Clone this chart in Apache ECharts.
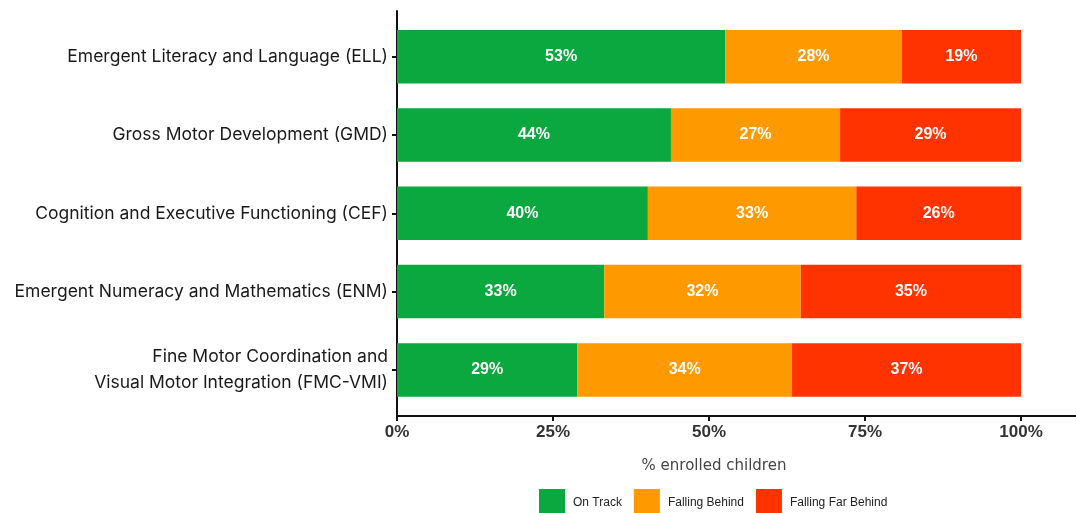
<!DOCTYPE html>
<html>
<head>
<meta charset="utf-8">
<script src="https://cdn.jsdelivr.net/npm/echarts@6/dist/echarts.min.js"></script>
<style>html,body{margin:0;padding:0;background:#fff}#c{width:1076px;height:513px}</style>
</head>
<body>
<div id="c"></div>
<script>
const categories = [
  'Emergent Literacy and Language (ELL)',
  'Gross Motor Development (GMD)',
  'Cognition and Executive Functioning (CEF)',
  'Emergent Numeracy and Mathematics (ENM)',
  'Fine Motor Coordination and\nVisual Motor Integration (FMC-VMI)'
];
const seriesNames = ['On Track', 'Falling Behind', 'Falling Far Behind'];
const onTrack = [52.6, 43.9, 40.2, 33.2, 28.9];
const fallingBehind = [28.3, 27.1, 33.4, 31.5, 34.4];
const fallingFarBehind = [19.1, 29.0, 26.4, 35.3, 36.7];
const xTicks = [0, 25, 50, 75, 100];
const colors = ['#0aa83e', '#ff9900', '#ff3300'];

const chart = echarts.init(document.getElementById('c'), null, {renderer: 'canvas'});
const XMAX = 108.8;
const mk = (name, data, i) => ({
  name: name, type: 'bar', stack: 'total', data: data,
  xAxisIndex: 0, yAxisIndex: 0,
  barCategoryGap: '31.7%',
  itemStyle: {color: colors[i]},
  label: {show: true, position: 'inside', color: '#fff', fontWeight: 'bold', fontSize: 16,
    fontFamily: 'Liberation Sans, Arial, sans-serif',
    formatter: p => Math.round(p.value) + '%'}
});
chart.setOption({
  animation: false,
  title: {text: '% enrolled children', left: 709, top: 454, textAlign: 'center',
    textStyle: {fontSize: 15, fontWeight: 'normal', color: '#444', fontFamily: 'DejaVu Sans, sans-serif'}},
  legend: {data: seriesNames, left: 534, top: 484, padding: 5, itemWidth: 26, itemHeight: 28, itemGap: 12,
    icon: 'rect',
    textStyle: {fontSize: 12, color: '#222', padding: [0, 0, 0, 3],
      fontFamily: 'Liberation Sans Narrow, Arial Narrow, sans-serif'}},
  grid: [
    {left: 397, right: 0, top: 17.5, height: 391.6},
    {left: 397, right: 0, top: 11, bottom: 97}
  ],
  xAxis: [
    {type: 'value', gridIndex: 0, min: 0, max: XMAX, show: false},
    {type: 'value', gridIndex: 1, min: 0, max: XMAX,
      axisLine: {show: true, lineStyle: {color: '#111', width: 2}},
      axisTick: {show: true, length: 5, lineStyle: {color: '#111', width: 2}, customValues: xTicks},
      axisLabel: {customValues: xTicks, formatter: v => v + '%', fontSize: 17, fontWeight: 'bold', color: '#333', margin: 8,
        fontFamily: 'Liberation Sans, Arial, sans-serif'},
      splitLine: {show: false}}
  ],
  yAxis: [
    {type: 'category', gridIndex: 0, data: categories, inverse: true,
      axisLine: {show: false},
      axisTick: {show: true, alignWithLabel: true, length: 5, lineStyle: {color: '#111', width: 2}},
      axisLabel: {fontSize: 17.5, color: '#1a1a1a', margin: 9, lineHeight: 26,
        fontFamily: 'Inter, Liberation Sans, sans-serif'}},
    {type: 'value', gridIndex: 1, min: 0, max: 1,
      axisLine: {show: true, lineStyle: {color: '#111', width: 2}},
      axisTick: {show: false}, axisLabel: {show: false}, splitLine: {show: false}}
  ],
  series: [
    mk(seriesNames[0], onTrack, 0),
    mk(seriesNames[1], fallingBehind, 1),
    mk(seriesNames[2], fallingFarBehind, 2)
  ]
});
</script>
</body>
</html>
